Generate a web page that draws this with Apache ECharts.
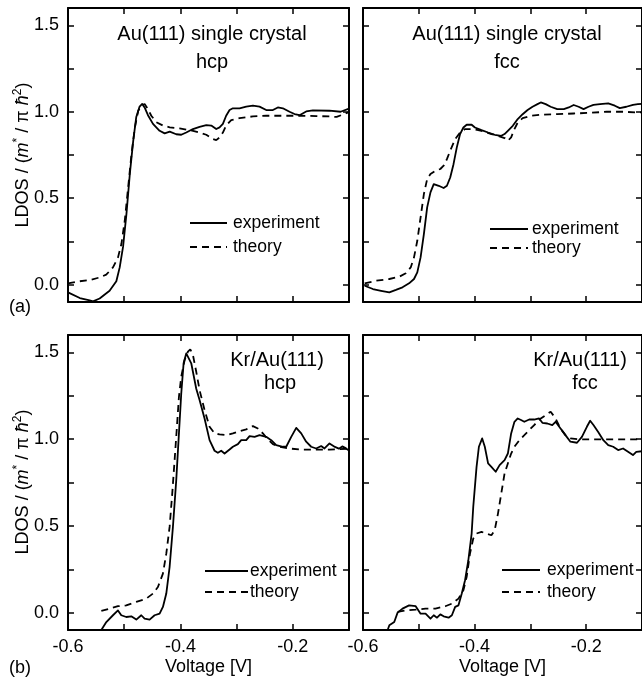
<!DOCTYPE html>
<html><head><meta charset="utf-8">
<script src="https://cdn.jsdelivr.net/npm/echarts@6/dist/echarts.min.js"></script>
<style>html,body{margin:0;padding:0;background:#fff}#c{width:642px;height:683px}</style>
</head><body><div id="c"></div>
<script>
// ---- tick values / labels ----
const xTickValues = [-0.6, -0.5, -0.4, -0.3, -0.2, -0.1];
const xLabelValues = [-0.6, -0.4, -0.2];
const yTickValues = [0, 0.25, 0.5, 0.75, 1.0, 1.25, 1.5];
const yLabelValues = [0, 0.5, 1.0, 1.5];
const panelTitles = [["Au(111) single crystal", "hcp"], ["Au(111) single crystal", "fcc"], ["Kr/Au(111)", "hcp"], ["Kr/Au(111)", "fcc"]];
const seriesNames = ["experiment", "theory"];

// ---- (a) Au(111) hcp ----
const auHcpExpV = [-0.600,-0.579,-0.5615,-0.5555,-0.5437,-0.526,-0.514,-0.508,-0.502,-0.496,-0.490,-0.484,-0.4785,-0.4726,-0.468,-0.4637,-0.4577,-0.4488,-0.437,-0.428,-0.419,-0.4074,-0.3985,-0.3896,-0.3777,-0.3659,-0.354,-0.3451,-0.3362,-0.3303,-0.3244,-0.3186,-0.3125,-0.3066,-0.2947,-0.2829,-0.271,-0.2592,-0.2473,-0.2354,-0.2266,-0.2177,-0.2058,-0.1969,-0.188,-0.1762,-0.1643,-0.1347,-0.115,-0.100];
const auHcpExpY = [-0.044,-0.077,-0.090,-0.096,-0.080,-0.035,0.020,0.100,0.220,0.410,0.640,0.830,0.970,1.030,1.045,1.025,0.980,0.930,0.890,0.875,0.885,0.870,0.867,0.880,0.900,0.913,0.923,0.920,0.900,0.910,0.930,0.977,1.010,1.020,1.020,1.030,1.035,1.030,1.010,1.010,1.025,1.020,1.000,0.987,0.980,1.002,1.008,1.006,1.000,1.018];
const auHcpThV = [-0.600,-0.579,-0.5615,-0.5437,-0.532,-0.520,-0.511,-0.505,-0.499,-0.493,-0.487,-0.481,-0.475,-0.469,-0.4637,-0.4577,-0.4518,-0.443,-0.431,-0.419,-0.4015,-0.3837,-0.3659,-0.354,-0.342,-0.3362,-0.3303,-0.3244,-0.3186,-0.3096,-0.2947,-0.271,-0.2473,-0.2177,-0.188,-0.158,-0.1347,-0.122,-0.110,-0.100];
const auHcpThY = [0.008,0.020,0.027,0.042,0.058,0.100,0.158,0.235,0.370,0.563,0.755,0.910,1.006,1.035,1.045,1.015,0.977,0.940,0.920,0.910,0.904,0.894,0.880,0.867,0.842,0.836,0.852,0.880,0.920,0.952,0.963,0.973,0.977,0.977,0.977,0.975,0.973,0.970,0.985,0.998];

// ---- (a) Au(111) fcc ----
const auFccExpV = [-0.597,-0.5823,-0.5676,-0.5528,-0.541,-0.5292,-0.5174,-0.5086,-0.5027,-0.4968,-0.4909,-0.485,-0.4791,-0.4732,-0.4643,-0.4555,-0.4496,-0.4437,-0.4378,-0.4319,-0.426,-0.4201,-0.4142,-0.4053,-0.3994,-0.3876,-0.3758,-0.364,-0.3522,-0.3463,-0.3404,-0.3316,-0.3227,-0.3139,-0.305,-0.2962,-0.2873,-0.2814,-0.2726,-0.2637,-0.2519,-0.2401,-0.2313,-0.2224,-0.2136,-0.2047,-0.1959,-0.187,-0.1752,-0.1605,-0.1487,-0.1398,-0.128,-0.1162,-0.1074,-0.100];
const auFccExpY = [-0.006,-0.025,-0.035,-0.044,-0.030,-0.015,0.008,0.033,0.071,0.158,0.293,0.447,0.534,0.582,0.572,0.559,0.572,0.620,0.697,0.794,0.871,0.909,0.925,0.925,0.909,0.894,0.880,0.867,0.861,0.871,0.890,0.919,0.958,0.986,1.010,1.029,1.044,1.054,1.044,1.029,1.015,1.015,1.025,1.039,1.029,1.015,1.029,1.040,1.044,1.048,1.035,1.021,1.029,1.040,1.044,1.046];
const auFccThV = [-0.597,-0.5764,-0.5528,-0.5351,-0.5233,-0.5145,-0.5086,-0.5027,-0.4968,-0.4909,-0.485,-0.4791,-0.4702,-0.4614,-0.4555,-0.4496,-0.4437,-0.4348,-0.426,-0.4171,-0.4053,-0.3935,-0.3817,-0.3699,-0.3581,-0.3463,-0.3404,-0.3345,-0.3286,-0.3227,-0.3139,-0.2991,-0.2814,-0.2519,-0.2224,-0.1929,-0.1634,-0.1339,-0.1074,-0.100];
const auFccThY = [0.008,0.023,0.033,0.046,0.066,0.100,0.158,0.254,0.389,0.524,0.611,0.640,0.659,0.669,0.688,0.726,0.775,0.842,0.880,0.900,0.900,0.894,0.884,0.871,0.861,0.848,0.832,0.852,0.900,0.938,0.963,0.977,0.983,0.986,0.990,0.994,1.000,1.000,0.996,0.996];

// ---- (b) Kr/Au(111) hcp ----
const krHcpExpV = [-0.5407,-0.5318,-0.520,-0.5111,-0.5052,-0.4963,-0.4874,-0.4785,-0.4696,-0.4637,-0.4548,-0.4459,-0.437,-0.4311,-0.4251,-0.4192,-0.4133,-0.4074,-0.4026,-0.3985,-0.3943,-0.3896,-0.3866,-0.3807,-0.3718,-0.3659,-0.357,-0.3481,-0.3392,-0.3333,-0.3274,-0.3214,-0.3125,-0.3066,-0.2977,-0.2918,-0.2829,-0.2769,-0.268,-0.2592,-0.2473,-0.2384,-0.2295,-0.2177,-0.2117,-0.2028,-0.1939,-0.185,-0.1762,-0.1673,-0.1584,-0.1495,-0.1436,-0.1347,-0.125,-0.118,-0.112,-0.106,-0.100];
const krHcpExpY = [-0.100,-0.054,-0.015,0.013,-0.015,-0.025,-0.021,-0.040,-0.015,-0.035,-0.040,-0.015,-0.006,0.033,0.110,0.263,0.494,0.763,1.033,1.263,1.437,1.494,1.498,1.437,1.290,1.225,1.119,0.994,0.933,0.921,0.933,0.917,0.940,0.956,0.971,0.994,0.994,1.017,1.013,1.023,1.013,0.994,0.965,0.956,0.956,1.013,1.065,1.033,0.985,0.956,0.946,0.960,0.946,0.975,0.955,0.945,0.958,0.948,0.935];
const krHcpThV = [-0.5407,-0.5259,-0.5111,-0.4963,-0.4785,-0.4607,-0.4488,-0.440,-0.4311,-0.4251,-0.4192,-0.4145,-0.4103,-0.4062,-0.4026,-0.3985,-0.3925,-0.3866,-0.3824,-0.3777,-0.3718,-0.3659,-0.357,-0.3481,-0.3392,-0.3303,-0.3184,-0.3066,-0.2947,-0.2829,-0.271,-0.2621,-0.2532,-0.2443,-0.2354,-0.2236,-0.2058,-0.188,-0.1584,-0.1347,-0.100];
const krHcpThY = [0.010,0.023,0.037,0.042,0.062,0.081,0.110,0.148,0.225,0.340,0.494,0.687,0.879,1.071,1.244,1.360,1.456,1.504,1.517,1.485,1.388,1.283,1.167,1.071,1.033,1.027,1.023,1.033,1.046,1.056,1.075,1.061,1.033,0.998,0.971,0.956,0.946,0.940,0.940,0.940,0.945];

// ---- (b) Kr/Au(111) fcc ----
const krFccExpV = [-0.5558,-0.5528,-0.544,-0.538,-0.5292,-0.5174,-0.5056,-0.4968,-0.4879,-0.4791,-0.4732,-0.4673,-0.4614,-0.4555,-0.4466,-0.4407,-0.4348,-0.4289,-0.423,-0.4171,-0.4112,-0.4053,-0.4024,-0.3965,-0.3923,-0.3864,-0.3817,-0.3758,-0.3699,-0.3622,-0.3552,-0.3463,-0.3404,-0.3345,-0.3286,-0.3227,-0.3168,-0.3109,-0.3021,-0.2932,-0.2844,-0.2785,-0.2696,-0.2608,-0.2549,-0.246,-0.2372,-0.2283,-0.2165,-0.2077,-0.1988,-0.1929,-0.187,-0.1782,-0.1693,-0.1605,-0.1516,-0.1428,-0.1339,-0.125,-0.1162,-0.1103,-0.100];
const krFccExpY = [-0.100,-0.073,-0.054,0.000,0.023,0.042,0.037,-0.006,-0.006,-0.035,-0.015,-0.029,-0.010,-0.021,-0.029,-0.015,0.033,0.042,0.110,0.187,0.302,0.456,0.610,0.840,0.956,1.004,0.956,0.860,0.840,0.812,0.850,0.879,0.917,1.033,1.100,1.119,1.110,1.100,1.113,1.113,1.119,1.094,1.090,1.081,1.100,1.061,1.023,0.985,0.979,1.013,1.071,1.106,1.081,1.040,0.994,0.965,0.956,0.937,0.946,0.927,0.908,0.927,0.930];
const krFccThV = [-0.538,-0.5233,-0.5056,-0.4879,-0.4702,-0.4525,-0.4407,-0.4289,-0.4201,-0.4142,-0.4083,-0.4024,-0.3965,-0.3876,-0.3788,-0.3699,-0.364,-0.3581,-0.3522,-0.3463,-0.3404,-0.3345,-0.3286,-0.3198,-0.3109,-0.3021,-0.2932,-0.2814,-0.2726,-0.2637,-0.2549,-0.246,-0.2372,-0.2283,-0.2106,-0.1811,-0.1516,-0.1074,-0.100];
const krFccThY = [0.004,0.013,0.017,0.023,0.023,0.037,0.052,0.081,0.129,0.206,0.340,0.427,0.456,0.465,0.456,0.446,0.475,0.571,0.687,0.802,0.860,0.917,0.956,0.994,1.023,1.052,1.081,1.119,1.138,1.158,1.119,1.061,1.023,1.004,0.998,0.998,0.998,0.998,0.998];

const panels = [
  [auHcpExpV, auHcpExpY, auHcpThV, auHcpThY],
  [auFccExpV, auFccExpY, auFccThV, auFccThY],
  [krHcpExpV, krHcpExpY, krHcpThV, krHcpThY],
  [krFccExpV, krFccExpY, krFccThV, krFccThY]
];

// ---- layout ----
const FONT = '"Liberation Sans", Arial, sans-serif';
const grids = [
  {left: 68, top: 8, width: 281, height: 294},
  {left: 363, top: 8, width: 282, height: 294},
  {left: 68, top: 335, width: 281, height: 295},
  {left: 363, top: 335, width: 282, height: 295}
];
const zip = (a, b) => a.map((v, i) => [v, b[i]]);
const fmt = v => v.toFixed(1);
const axisLineStyle = {onZero: false, lineStyle: {color: '#000', width: 2}};
const tickStyle = (vals) => ({show: true, inside: true, length: 6, customValues: vals, lineStyle: {color: '#000', width: 1.5}});

const xAxes = [], yAxes = [], series = [];
grids.forEach((g, i) => {
  const bottomRow = i >= 2;
  const leftCol = i % 2 === 0;
  xAxes.push({
    type: 'value', gridIndex: i, position: 'bottom', min: -0.6, max: -0.1,
    axisLine: axisLineStyle, axisTick: tickStyle(xTickValues), splitLine: {show: false},
    axisLabel: {show: bottomRow, customValues: xLabelValues, formatter: fmt, color: '#000', fontSize: 18, fontFamily: FONT, margin: 8},
    name: bottomRow ? 'Voltage [V]' : '', nameLocation: 'middle', nameGap: 28,
    nameTextStyle: {color: '#000', fontSize: 18, fontFamily: FONT}
  });
  xAxes.push({
    type: 'value', gridIndex: i, position: 'top', min: -0.6, max: -0.1,
    axisLine: axisLineStyle, axisTick: tickStyle(xTickValues), splitLine: {show: false},
    axisLabel: {show: false}
  });
  yAxes.push({
    type: 'value', gridIndex: i, position: 'left', min: -0.1, max: 1.6,
    axisLine: axisLineStyle, axisTick: tickStyle(yTickValues), splitLine: {show: false},
    axisLabel: {show: leftCol, customValues: yLabelValues, formatter: fmt, color: '#000', fontSize: 18, fontFamily: FONT, margin: 9}
  });
  yAxes.push({
    type: 'value', gridIndex: i, position: 'right', min: -0.1, max: 1.6,
    axisLine: axisLineStyle, axisTick: tickStyle(yTickValues), splitLine: {show: false},
    axisLabel: {show: false}
  });
  const p = panels[i];
  series.push({
    name: seriesNames[0], type: 'line', xAxisIndex: 2 * i, yAxisIndex: 2 * i,
    data: zip(p[0], p[1]), showSymbol: false, symbol: 'none', clip: true,
    lineStyle: {color: '#000', width: 1.8, type: 'solid', join: 'round'}, z: 3
  });
  series.push({
    name: seriesNames[1], type: 'line', xAxisIndex: 2 * i, yAxisIndex: 2 * i,
    data: zip(p[2], p[3]), showSymbol: false, symbol: 'none', clip: true,
    lineStyle: {color: '#000', width: 1.8, type: [7, 5]}, z: 2
  });
});

// ---- annotation text / legends ----
const titlePos = [
  [[212, 34], [212, 62]],
  [[507, 34], [507, 62]],
  [[277, 360], [280, 383]],
  [[580, 360], [585, 383]]
];
const legendPos = [
  {x1: 190, x2: 227, y1: 223, y2: 247, tx: 233},
  {x1: 490, x2: 528, y1: 229, y2: 248, tx: 532},
  {x1: 205, x2: 248, y1: 571, y2: 592, tx: 250},
  {x1: 502, x2: 540, y1: 570, y2: 592, tx: 547}
];
const graphic = [];
const txt = (x, y, s, size, align) => ({
  type: 'text', x: x, y: y, z: 10,
  style: {text: s, fill: '#000', fontSize: size, fontFamily: FONT, align: align || 'center', verticalAlign: 'middle'}
});
panelTitles.forEach((t, i) => {
  graphic.push(txt(titlePos[i][0][0], titlePos[i][0][1], t[0], 20));
  graphic.push(txt(titlePos[i][1][0], titlePos[i][1][1], t[1], 20));
  const L = legendPos[i];
  graphic.push({type: 'line', z: 10, shape: {x1: L.x1, y1: L.y1, x2: L.x2, y2: L.y1}, style: {stroke: '#000', lineWidth: 2}});
  graphic.push({type: 'line', z: 10, shape: {x1: L.x1, y1: L.y2, x2: L.x2, y2: L.y2}, style: {stroke: '#000', lineWidth: 2, lineDash: [7, 5]}});
  graphic.push(txt(L.tx, L.y1, seriesNames[0], 17.5, 'left'));
  graphic.push(txt(L.tx, L.y2, seriesNames[1], 17.5, 'left'));
});
graphic.push(txt(20, 307, '(a)', 18));
graphic.push(txt(20, 668, '(b)', 18));
const yName = (cy) => ({
  type: 'text', x: 23, y: cy, rotation: Math.PI / 2, z: 10,
  style: {
    text: '{a|LDOS / (}{i|m}{s|*}{a| / π }{i|ħ}{s|2}{a|)}',
    align: 'center', verticalAlign: 'middle', fill: '#000', fontFamily: FONT, fontSize: 18,
    rich: {
      a: {fontSize: 18, fontFamily: FONT, fill: '#000', lineHeight: 22},
      i: {fontSize: 18, fontFamily: FONT, fontStyle: 'italic', fill: '#000', lineHeight: 22},
      s: {fontSize: 12, fontFamily: FONT, fill: '#000', verticalAlign: 'top', lineHeight: 22}
    }
  }
});
graphic.push(yName(155));
graphic.push(yName(482));

const chart = echarts.init(document.getElementById('c'), null, {renderer: 'canvas'});
chart.setOption({
  animation: false,
  backgroundColor: '#fff',
  grid: grids,
  xAxis: xAxes,
  yAxis: yAxes,
  series: series,
  graphic: graphic
});
</script>
</body></html>
